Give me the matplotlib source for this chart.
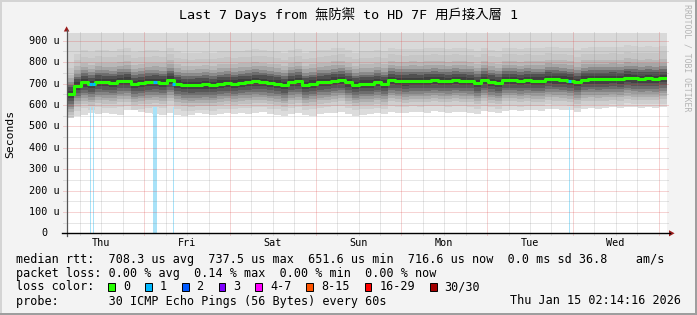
import numpy as np
import matplotlib
matplotlib.use("Agg")
import matplotlib.pyplot as plt
from matplotlib.patches import Rectangle, Polygon

# ---------------- data ----------------
# 2-hour bins across the 7-day window (84 bins), values in microseconds
median_rtt = [652, 690, 705, 697, 708, 706, 704, 712, 714, 698,
              702, 706, 708, 704, 718, 700, 693, 692, 694, 696,
              693, 700, 702, 700, 704, 706, 710, 708, 703, 700,
              692, 706, 710, 694, 700, 706, 708, 714, 716, 705,
              694, 700, 700, 706, 700, 716, 712, 710, 713, 712,
              714, 716, 714, 712, 716, 714, 712, 702, 716, 708,
              702, 716, 716, 712, 716, 714, 714, 722, 720, 718,
              714, 706, 718, 720, 719, 720, 722, 720, 728, 724,
              722, 724, 722, 726]
smoke_min = [540, 548, 555, 560, 556, 562, 558, 552, 575, 578,
             565, 560, 558, 555, 560, 552, 548, 552, 560, 556,
             552, 558, 562, 556, 560, 558, 562, 565, 556, 552,
             548, 556, 562, 552, 550, 556, 560, 564, 566, 558,
             550, 554, 558, 562, 556, 566, 564, 562, 566, 568,
             564, 570, 566, 562, 568, 566, 564, 558, 570, 566,
             560, 572, 575, 570, 576, 574, 572, 582, 580, 578,
             574, 566, 580, 584, 580, 586, 588, 584, 592, 588,
             584, 590, 586, 592]
# spread of the sorted pings around the median (us)
smoke_above = [15, 30, 42, 56, 72, 90, 120, 150, 400]
smoke_below = [20, 35, 48, 60, 72, 85, 100, 120]
# loss events (hours after window start) and their loss count
loss_time = [6.7, 7.6, 24.5, 24.8, 25.1, 30.0, 140.8]
loss_count = [1, 1, 1, 1, 1, 1, 1]

day_names = ["Thu", "Fri", "Sat", "Sun", "Mon", "Tue", "Wed"]
y_ticks = [0, 100, 200, 300, 400, 500, 600, 700, 800, 900]
y_tick_labels = ["0", "100 u", "200 u", "300 u", "400 u", "500 u",
                 "600 u", "700 u", "800 u", "900 u"]
loss_labels = ["0", "1", "2", "3", "4-7", "8-15", "16-29", "30/30"]
loss_colors = ["#26ff00", "#00b8ff", "#0059ff", "#7e00ff", "#ff00ff",
               "#ff5500", "#ff0000", "#a10000"]

title = "Last 7 Days from 無防禦 to HD 7F 用戶接入層 1"
legend_lines = [
    "median rtt:  708.3 us avg  737.5 us max  651.6 us min  716.6 us now  0.0 ms sd 36.8    am/s",
    "packet loss: 0.00 % avg  0.14 % max  0.00 % min  0.00 % now",
    "loss color:",
    "probe:       30 ICMP Echo Pings (56 Bytes) every 60s",
]
stamp = "Thu Jan 15 02:14:16 2026"

# ---------------- layout ----------------
W, H = 697, 315
fig = plt.figure(figsize=(W / 100, H / 100), dpi=100, facecolor="#f3f3f3")
L, R, T, B = 66.5, 666.5, 33.3, 233.3
YMAX = 934.6
SPAN = 168.0
start_hour = 2 + 14 / 60 + 16 / 3600

ax = fig.add_axes([L / W, 1 - B / H, (R - L) / W, (B - T) / H])
ax.set_xlim(0, SPAN)
ax.set_ylim(0, YMAX)
ax.set_facecolor("white")
for s in ax.spines.values():
    s.set_visible(False)

med = np.array(median_rtt, float)
floor = np.array(smoke_min, float)
nb = len(med)
xe = np.arange(nb + 1) * (SPAN / nb)
ext = lambda a: np.append(a, a[-1])

shades_above = ["#3e3e3e", "#505050", "#6c6c6c", "#8c8c8c", "#a6a6a6",
                "#b8b8b8", "#c6c6c6", "#cfcfcf", "#d9d9d9"]
shades_below = ["#424242", "#575757", "#6c6c6c", "#848484", "#9b9b9b",
                "#aeaeae", "#c0c0c0", "#cfcfcf"]
prev = med.copy()
for off, c in zip(smoke_above, shades_above):
    top = med + off
    ax.fill_between(xe, ext(prev), ext(top), step="post", color=c, lw=0, zorder=1)
    prev = top
prev = med.copy()
for off, c in zip(smoke_below, shades_below):
    bot = np.maximum(med - off, floor)
    ax.fill_between(xe, ext(bot), ext(prev), step="post", color=c, lw=0, zorder=1)
    prev = bot
ax.fill_between(xe, ext(floor), ext(prev), step="post", color="#dcdcdc", lw=0, zorder=1)

# loss bars
for t, n in zip(loss_time, loss_count):
    ax.bar(t, 588, width=0.3, color="#a8e2f8", lw=0, zorder=2)

# grid (dotted)
major_c = (0.86, 0.25, 0.25, 0.45)
minor_c = (0.5, 0.5, 0.5, 0.38)
dash = (0, (1, 1))
ex_y = 2.0 / (B - T)
ex_x = 2.0 / (R - L)
xt = ax.get_xaxis_transform()
yt = ax.get_yaxis_transform()
k = 1
while 6 * k - start_hour < SPAN:
    xv = 6 * k - start_hour
    major = (k % 4 == 0)
    ax.plot([xv, xv], [-ex_y, 1 + ex_y], transform=xt, clip_on=False,
            color=major_c if major else minor_c, lw=0.72, ls=dash, zorder=3)
    k += 1
for v in range(50, 901, 50):
    major = (v % 100 == 0)
    ax.plot([-2 * ex_x, 1 + ex_x], [v, v], transform=yt, clip_on=False,
            color=major_c if major else minor_c, lw=0.72, ls=dash, zorder=3)

# median line
ax.step(xe, ext(med), where="post", color=loss_colors[0], lw=2.2, zorder=4)
# loss coloured median pieces
for t, n in zip(loss_time, loss_count):
    i = min(int(t / (SPAN / nb)), nb - 1)
    ax.plot([t - 0.35, t + 0.35], [med[i], med[i]], color=loss_colors[n],
            lw=2.2, solid_capstyle="butt", zorder=5)

# ticks
noon = [12 + 24 * d - start_hour for d in range(7)]
ax.set_xticks(noon)
ax.set_xticklabels(day_names, family="DejaVu Sans Mono", fontsize=7.3)
ax.set_yticks(y_ticks)
ax.set_yticklabels(y_tick_labels, family="DejaVu Sans Mono", fontsize=7.3)
ax.tick_params(axis="both", length=0)
ax.tick_params(axis="y", pad=22 * 0.72)
ax.tick_params(axis="x", pad=9.2 * 0.72)
for lb in ax.get_yticklabels():
    lb.set_ha("center")
    lb.set_va("center")
for lb in ax.get_xticklabels():
    lb.set_va("center")

# ---------------- overlay in pixel coords ----------------
ov = fig.add_axes([0, 0, 1, 1], facecolor="none", zorder=10)
ov.set_xlim(0, W)
ov.set_ylim(H, 0)
ov.axis("off")

# frame
ov.add_patch(Rectangle((0, 0), W, 2, color="#d4d4d4", lw=0))
ov.add_patch(Rectangle((0, 0), 2, H, color="#d4d4d4", lw=0))
ov.add_patch(Rectangle((0, H - 2), W, 2, color="#9e9e9e", lw=0))
ov.add_patch(Rectangle((W - 2, 0), 2, H, color="#9e9e9e", lw=0))

# axes lines and arrows
ov.plot([L, L], [B + 3, 30], color="#555555", lw=0.9)
ov.plot([62, 670], [B, B], color="black", lw=1.0)
ov.add_patch(Polygon([(63.8, 31.5), (69.4, 31.5), (66.6, 26.3)], closed=True,
                     color="#9b1c1c", lw=0))
ov.add_patch(Polygon([(669, 230.2), (669, 236.4), (674.6, 233.3)], closed=True,
                     color="#9b1c1c", lw=0))

mono = "DejaVu Sans Mono"
ov.text(348.5, 14.5, title, family=[mono, "Noto Sans CJK TC"], fontsize=9.6,
        ha="center", va="center", color="black")
ov.text(10, 133.5, "Seconds", family=mono, fontsize=8.2, rotation=90,
        ha="center", va="center", color="black")
ov.text(687.5, 4.5, "RRDTOOL / TOBI OETIKER", family=mono, fontsize=5.9,
        rotation=270, ha="center", va="top", color="#b4b4b4")

line_y = [259.5, 273.0, 287.0, 301.0]
for s, y in zip(legend_lines, line_y):
    ov.text(15.5, y, s, family=mono, fontsize=8.5, ha="left", va="center",
            color="black")
ov.text(680.5, line_y[3], stamp, family=mono, fontsize=8.5, ha="right",
        va="center", color="black")

cw = 7.1
bx = 108.3
for lab, col in zip(loss_labels, loss_colors):
    ov.add_patch(Rectangle((bx, line_y[2] - 3.6), 6.8, 7.2, facecolor=col,
                           edgecolor="black", lw=0.7))
    ov.text(bx + 14.6, line_y[2], lab, family=mono, fontsize=8.5, ha="left",
            va="center", color="black")
    bx = bx + 15 + len(lab) * cw + 14.7

fig.savefig("out.png", dpi=100, facecolor=fig.get_facecolor())
